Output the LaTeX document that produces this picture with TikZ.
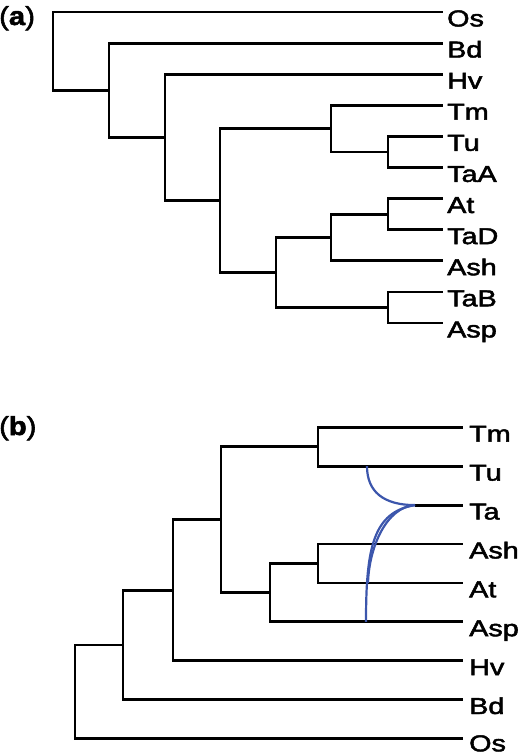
\documentclass[tikz,border=0pt]{standalone}
\usepackage{fontspec}
\setmainfont{Liberation Sans}
\newfontfamily\treefont{Liberation Sans}[FakeBold=2]
\usetikzlibrary{positioning}

\definecolor{hybblue}{RGB}{60,86,172}
\newcommand{\sx}[1]{\scalebox{1.25}[1]{#1}}

\tikzset{
    branch/.style={line width=2.8pt, line join=miter},
    hyb/.style={line width=2.2pt, hybblue},
    leaf/.style={anchor=base west, inner sep=0pt, font=\treefont\fontsize{23}{27}\selectfont},
    panel/.style={anchor=base west, inner sep=0pt, font=\treefont\fontsize{26}{30}\selectfont}
}

\begin{document}
\begin{tikzpicture}[x=1pt, y=-1pt]
            \useasboundingbox (0,0) rectangle (520,755);

            % (a)
            \node[panel] (pa) at (-1,25) {\scalebox{1.12}[1]{(\textbf{a})}};

            \coordinate (tipOs) at (443,12);
            \coordinate (tipBd) at (443,43.1);
            \coordinate (tipHv) at (443,74.2);
            \coordinate (tipTm) at (443,105.3);
            \coordinate (tipTu) at (443,136.4);
            \coordinate (tipTaA) at (443,167.5);
            \coordinate (tipAt) at (443,198.6);
            \coordinate (tipTaD) at (443,229.7);
            \coordinate (tipAsh) at (443,260.8);
            \coordinate (tipTaB) at (443,291.9);
            \coordinate (tipAsp) at (443,323);

            \coordinate (na1) at (53,51.1);
            \coordinate (na2) at (109,90.25);
            \coordinate (na3) at (165,137.4);
            \coordinate (na4) at (220,200.55);
            \coordinate (na5) at (331,128.6);
            \coordinate (na6) at (388,151.95);
            \coordinate (na7) at (276,272.5);
            \coordinate (na8) at (331,237.5);
            \coordinate (na9) at (388,214.15);
            \coordinate (na10) at (388,307.45);

            \node[leaf] (labOs) at ([xshift=4pt,yshift=-14.4pt]tipOs) {\sx{Os}};
            \node[leaf] (labBd) at ([xshift=4pt,yshift=-14.4pt]tipBd) {\sx{Bd}};
            \node[leaf] (labHv) at ([xshift=4pt,yshift=-14.4pt]tipHv) {\sx{Hv}};
            \node[leaf] (labTm) at ([xshift=4pt,yshift=-14.4pt]tipTm) {\sx{Tm}};
            \node[leaf] (labTu) at ([xshift=4pt,yshift=-14.4pt]tipTu) {\sx{Tu}};
            \node[leaf] (labTaA) at ([xshift=4pt,yshift=-14.4pt]tipTaA) {\sx{TaA}};
            \node[leaf] (labAt) at ([xshift=4pt,yshift=-14.4pt]tipAt) {\sx{At}};
            \node[leaf] (labTaD) at ([xshift=4pt,yshift=-14.4pt]tipTaD) {\sx{TaD}};
            \node[leaf] (labAsh) at ([xshift=4pt,yshift=-14.4pt]tipAsh) {\sx{Ash}};
            \node[leaf] (labTaB) at ([xshift=4pt,yshift=-14.4pt]tipTaB) {\sx{TaB}};
            \node[leaf] (labAsp) at ([xshift=4pt,yshift=-14.4pt]tipAsp) {\sx{Asp}};

            \draw[branch] (na1) |- (tipOs);
            \draw[branch] (na1) |- (na2);
            \draw[branch] (na2) |- (tipBd);
            \draw[branch] (na2) |- (na3);
            \draw[branch] (na3) |- (tipHv);
            \draw[branch] (na3) |- (na4);
            \draw[branch] (na4) |- (na5);
            \draw[branch] (na4) |- (na7);
            \draw[branch] (na5) |- (tipTm);
            \draw[branch] (na5) |- (na6);
            \draw[branch] (na6) |- (tipTu);
            \draw[branch] (na6) |- (tipTaA);
            \draw[branch] (na7) |- (na8);
            \draw[branch] (na7) |- (na10);
            \draw[branch] (na8) |- (na9);
            \draw[branch] (na8) |- (tipAsh);
            \draw[branch] (na9) |- (tipAt);
            \draw[branch] (na9) |- (tipTaD);
            \draw[branch] (na10) |- (tipTaB);
            \draw[branch] (na10) |- (tipAsp);

            % (b)
            \node[panel] (pb) at (-1,435) {\scalebox{1.12}[1]{(\textbf{b})}};

            \coordinate (tipTmb) at (463,427.3);
            \coordinate (tipTub) at (463,466.2);
            \coordinate (tipTab) at (463,505.1);
            \coordinate (tipAshb) at (463,544);
            \coordinate (tipAtb) at (463,582.9);
            \coordinate (tipAspb) at (463,621.8);
            \coordinate (tipHvb) at (463,660.7);
            \coordinate (tipBdb) at (463,699.6);
            \coordinate (tipOsb) at (463,738.3);

            \coordinate (nb1) at (75,691.6);
            \coordinate (nb2) at (123,644.9);
            \coordinate (nb3) at (173,590.2);
            \coordinate (nb4) at (221,519.7);
            \coordinate (nb5) at (318,446.75);
            \coordinate (nb6) at (270,592.6);
            \coordinate (nb7) at (318,563.45);

            \coordinate (hTa) at (415,505.1);
            \coordinate (hTu) at (367,466.2);
            \coordinate (hAt) at (368,582.9);
            \coordinate (hAsp) at (366,621.8);

            \node[leaf] (labTmb) at ([xshift=6pt,yshift=-14.4pt]tipTmb) {\sx{Tm}};
            \node[leaf] (labTub) at ([xshift=6pt,yshift=-14.4pt]tipTub) {\sx{Tu}};
            \node[leaf] (labTab) at ([xshift=6pt,yshift=-14.4pt]tipTab) {\sx{Ta}};
            \node[leaf] (labAshb) at ([xshift=6pt,yshift=-14.4pt]tipAshb) {\sx{Ash}};
            \node[leaf] (labAtb) at ([xshift=6pt,yshift=-14.4pt]tipAtb) {\sx{At}};
            \node[leaf] (labAspb) at ([xshift=6pt,yshift=-14.4pt]tipAspb) {\sx{Asp}};
            \node[leaf] (labHvb) at ([xshift=6pt,yshift=-14.4pt]tipHvb) {\sx{Hv}};
            \node[leaf] (labBdb) at ([xshift=6pt,yshift=-14.4pt]tipBdb) {\sx{Bd}};
            \node[leaf] (labOsb) at ([xshift=6pt,yshift=-13pt]tipOsb) {\sx{Os}};

            \draw[branch] (nb1) |- (nb2);
            \draw[branch] (nb1) |- (tipOsb);
            \draw[branch] (nb2) |- (nb3);
            \draw[branch] (nb2) |- (tipBdb);
            \draw[branch] (nb3) |- (nb4);
            \draw[branch] (nb3) |- (tipHvb);
            \draw[branch] (nb4) |- (nb5);
            \draw[branch] (nb4) |- (nb6);
            \draw[branch] (nb5) |- (tipTmb);
            \draw[branch] (nb5) |- (tipTub);
            \draw[branch] (nb6) |- (nb7);
            \draw[branch] (nb6) |- (tipAspb);
            \draw[branch] (nb7) |- (tipAshb);
            \draw[branch] (nb7) |- (tipAtb);
            \draw[branch] (hTa) -- (tipTab);

            % hybridisation
            \draw[hyb] (hTu) .. controls (367,492) and (384,505.1) .. (hTa);
            \draw[hyb] (hAt) .. controls (369,548) and (386,507) .. (hTa);
            \draw[hyb] (hAsp) .. controls (366,548) and (373,512) .. (hTa);
        \end{tikzpicture}
\end{document}
